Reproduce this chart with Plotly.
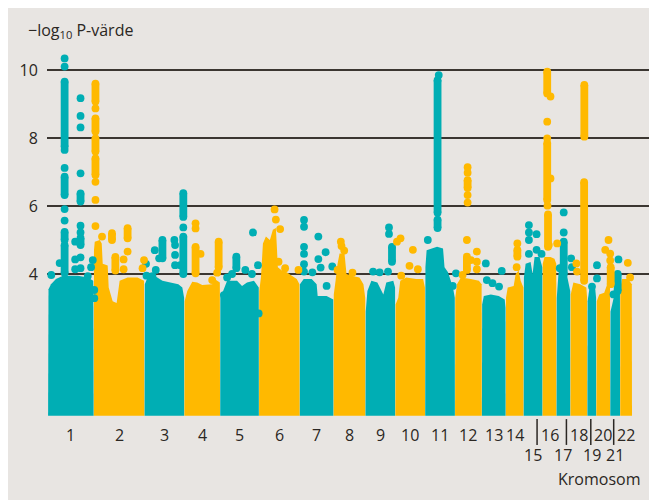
import numpy as np
import plotly.graph_objects as go

# ---------------- data ----------------
chromosomes = [str(i) for i in range(1, 23)]
chrom_length = [46, 51, 40, 36, 39, 41, 34, 32, 30, 30, 30, 27, 24, 18, 19, 14, 14, 17, 9, 14, 10, 12]
lower_row_labels = ["15", "17", "19", "21"]
separated_labels = ["16", "18", "20", "22"]
y_ticks = [4, 6, 8, 10]
cloud_floor = -0.17

# upper envelope of the dense SNP cloud, per chromosome (relative position, -log10 p)
envelope_pos = [
    [0.5, 3, 8, 15, 30, 40, 45.5],
    [0.2, 1, 6, 8, 9, 14, 15, 19, 23, 26, 34, 44, 50.5],
    [0.3, 3, 10, 18, 28, 34, 38, 39.8],
    [0.3, 3, 8, 13, 18, 28, 32, 35.7],
    [0.2, 3, 7, 17, 22, 27, 34, 38.8],
    [0.3, 2, 4, 7, 11, 14, 17, 18, 19, 23, 28, 33, 38, 40.7],
    [0.2, 4, 12, 17, 18, 27, 33.7],
    [0.2, 2, 4, 6, 11, 13, 18, 26, 30, 31.8],
    [0.3, 2, 6, 12, 18, 21, 28, 29.8],
    [0.3, 3, 5, 11, 21, 28, 29.8],
    [0.3, 1.5, 6, 12, 18, 19.5, 23, 26, 28, 29.8],
    [0.3, 2, 6, 16, 24, 26.8],
    [0.3, 2, 9, 17, 23, 23.8],
    [0.3, 2, 8, 10, 13, 15, 17.8],
    [0.3, 2, 7, 9, 11, 16, 18.8],
    [0.2, 2, 8, 12, 13.8],
    [0.3, 2, 5, 6.5, 8, 9, 11, 13.8],
    [0.3, 3, 10, 16, 16.8],
    [0.3, 2, 5, 8, 8.8],
    [0.5, 3, 8, 11, 13, 13.8],
    [0.3, 2, 5, 7, 9.5, 9.8],
    [0.2, 2, 8, 11.7],
]
envelope_val = [
    [3.55, 3.7, 3.85, 3.95, 3.95, 3.9, 3.8],
    [4.7, 4.95, 5.0, 4.9, 4.3, 4.25, 3.6, 3.2, 3.15, 3.8, 3.9, 3.9, 3.8],
    [3.7, 3.9, 3.95, 3.8, 3.75, 3.7, 3.6, 3.3],
    [3.2, 3.5, 3.77, 3.75, 3.68, 3.7, 3.82, 3.75],
    [3.3, 3.5, 3.8, 3.8, 3.65, 3.75, 3.8, 3.6],
    [3.5, 3.9, 4.9, 5.1, 5.0, 5.3, 5.35, 4.8, 4.2, 4.1, 4.05, 3.95, 3.85, 3.7],
    [3.7, 3.85, 3.85, 3.7, 3.35, 3.35, 3.25],
    [3.4, 3.8, 4.3, 4.6, 4.6, 4.0, 3.95, 3.9, 3.7, 3.3],
    [2.9, 3.5, 3.8, 3.75, 3.4, 3.75, 3.8, 3.6],
    [3.1, 3.3, 3.8, 3.9, 3.85, 3.85, 3.6],
    [4.2, 4.7, 4.75, 4.8, 4.75, 4.2, 4.05, 3.8, 3.6, 3.3],
    [3.3, 3.7, 3.9, 3.85, 3.8, 3.7],
    [3.1, 3.35, 3.4, 3.35, 3.25, 3.0],
    [3.3, 3.6, 3.65, 4.0, 4.1, 3.8, 3.6],
    [3.9, 4.3, 4.35, 4.0, 4.5, 4.5, 4.2],
    [4.3, 4.5, 4.5, 4.45, 4.3],
    [3.3, 4.0, 4.6, 4.95, 4.95, 4.6, 3.9, 3.5],
    [3.4, 3.75, 3.7, 3.6, 3.3],
    [3.2, 3.55, 3.6, 3.55, 3.3],
    [3.2, 3.4, 3.45, 3.7, 4.0, 3.8],
    [2.9, 3.1, 3.5, 3.95, 3.9, 3.5],
    [3.6, 3.85, 3.85, 3.7],
]

# runs of densely packed SNPs (chromosome, relative position, lowest, highest)
streak_chrom = [1, 1, 1, 1, 1, 1,
                2, 2, 2, 2, 2, 2, 2,
                3, 3, 3, 4, 4, 5, 9, 11, 11, 12, 12, 14,
                16, 16, 16, 17, 18, 18, 20, 21]
streak_pos = [16.7, 16.7, 16.7, 16.7, 32.7, 32.7,
              1.7, 1.7, 1.7, 1.7, 18.3, 21.7, 34,
              39, 39, 18, 11.3, 34.5, 16.3, 26.7, 12.5, 12.5, 12.7, 12, 11.7,
              4.7, 4.7, 5.5, 7.3, 14, 13.8, 14.5, 7.5]
streak_low = [7.74, 6.32, 5.0, 4.03, 6.13, 4.85,
              9.07, 8.19, 7.6, 6.91, 5.0, 4.1, 5.05,
              5.68, 4.0, 4.46, 4.02, 4.2, 4.17, 4.36, 5.8, 5.35, 6.53, 4.12, 4.51,
              9.31, 6.18, 4.8, 4.0, 8.04, 3.8, 3.7, 3.5]
streak_high = [9.66, 6.86, 5.24, 4.85, 6.37, 5.06,
               9.6, 8.58, 7.99, 7.4, 5.2, 4.5, 5.35,
               6.38, 5.1, 5.0, 4.8, 4.95, 4.51, 4.8, 9.7, 5.6, 6.76, 4.51, 4.71,
               9.95, 7.85, 5.75, 4.95, 9.56, 6.7, 4.2, 4.0]

# single SNPs standing out (chromosome, relative position, -log10 p)
dot_chrom = ([1] * 24 + [2] * 10 + [3] * 12 + [4] * 5 + [5] * 8 + [6] * 7 + [7] * 13 +
             [8] * 5 + [9] * 5 + [10] * 6 + [11] * 4 + [12] * 10 + [13] * 5 + [14] * 2 +
             [15] * 7 + [16] * 7 + [17] * 5 + [18] * 2 + [19] * 3 + [20] * 4 + [21] * 2 + [22] * 2)
dot_pos = [16.7, 16.7, 16.7, 16.7, 16.7, 16.7, 11.7, 3.3, 32.7, 32.7, 32.7, 32.7, 32.7, 32.7,
           27.3, 27.3, 32.7, 27.3, 32.7, 40, 45, 43.3, 46.5, 46.5,
           1.7, 1.7, 1.7, 1.7, 8.3, 30, 30, 34, 49, 50.5,
           39, 10.3, 14.7, 30, 30.7, 30.7, 30.7, 36, 11.3, 8, 1.5, 2,
           11.3, 11.3, 16.3, 33, 28,
           12, 25.3, 33, 32, 7, 3.7, 38, 38.7,
           15.7, 17, 21.3, 19.7, 7, 26.3, 39.7,
           4.3, 4.3, 4.3, 4.3, 4.3, 4.3, 18.7, 26, 18.7, 21, 32.7, 12.7, 27,
           7.3, 8, 10.7, 19, 4,
           23.7, 23.7, 22.7, 7.7, 14.3,
           1.7, 5.3, 17.7, 14.3, 22.7, 6,
           13.7, 2.7, 31, 27.7,
           12.7, 12.7, 12.7, 12.7, 12, 22, 22, 22, 16, 7.7,
           4, 5, 10.7, 17.3, 20,
           11.7, 11,
           5.3, 5.3, 5.3, 5.3, 13, 13, 18,
           8, 4.7, 4.7, 8, 5, 14.7, 6.3,
           7.3, 7.3, 14.7, 15.5, 3.3,
           6, 6.7,
           9.7, 9.7, 4.7,
           9, 12.3, 14, 14,
           8.3, 3.3,
           7.7, 10]
dot_val = [10.34, 10.1, 7.65, 7.12, 5.91, 5.57, 4.32, 3.97, 9.17, 8.65, 8.31, 6.96, 5.42, 5.22,
           4.95, 4.43, 4.49, 4.14, 4.17, 3.94, 4.41, 4.2, 3.53, 3.29,
           8.87, 6.71, 6.18, 5.41, 5.1, 4.43, 4.14, 4.66, 4.17, 4.41,
           5.37, 4.7, 4.46, 5.0, 4.85, 4.56, 4.26, 4.26, 4.12, 3.94, 4.3, 3.95,
           5.49, 5.34, 4.59, 4.04, 3.82,
           4.0, 4.12, 5.22, 4.0, 3.9, 3.38, 4.26, 2.84,
           5.9, 5.6, 5.32, 4.36, 4.17, 4.17, 4.12,
           5.59, 5.39, 4.8, 4.59, 4.29, 4.07, 5.1, 4.64, 4.44, 4.19, 4.22, 4.05, 3.65,
           4.95, 4.82, 4.69, 4.04, 4.12,
           5.37, 5.18, 4.07, 4.07, 4.05,
           4.95, 5.05, 4.71, 4.24, 4.14, 3.95,
           9.85, 5.0, 4.02, 3.65,
           7.14, 6.98, 6.32, 6.1, 5.0, 4.66, 4.36, 4.14, 4.41, 3.97,
           4.31, 3.82, 3.73, 3.63, 4.09,
           4.9, 4.2,
           5.44, 5.22, 5.0, 4.59, 5.17, 4.71, 4.59,
           9.22, 8.48, 7.99, 6.81, 6.01, 4.9, 4.85,
           5.81, 5.22, 4.46, 4.2, 4.17,
           4.31, 4.07,
           4.26, 3.87, 3.63,
           4.71, 5.0, 4.6, 4.4,
           4.43, 3.4,
           4.33, 3.9]

# ---------------- style ----------------
TEAL = "#00AEB4"
ORANGE = "#FFB900"
BG = "#E8E5E2"
INK = "#2B2723"
GRID = "#3B3631"
FONT = "Open Sans"
MS = 7.8

offsets = np.concatenate([[0], np.cumsum(chrom_length)[:-1]])
colors = [TEAL if i % 2 == 0 else ORANGE for i in range(len(chromosomes))]

fig = go.Figure()

# dense cloud per chromosome
for i in range(len(chromosomes)):
    start = offsets[i]
    xs = [start + p for p in envelope_pos[i]]
    x = [start + 0.1] + xs + [start + chrom_length[i] - 0.1]
    y = [cloud_floor] + envelope_val[i] + [cloud_floor]
    fig.add_trace(go.Scatter(x=x, y=y, fill="toself", fillcolor=colors[i], mode="lines",
                             line=dict(width=0, color=colors[i]), hoverinfo="skip",
                             showlegend=False))

# streaks and dots, grouped by colour
for parity, col in ((1, TEAL), (0, ORANGE)):
    sx, sy = [], []
    for c, p, lo, hi in zip(streak_chrom, streak_pos, streak_low, streak_high):
        if c % 2 == parity:
            xx = offsets[c - 1] + p
            sx += [xx, xx, None]
            sy += [lo, hi, None]
    fig.add_trace(go.Scatter(x=sx, y=sy, mode="lines+markers",
                             line=dict(width=MS, color=col),
                             marker=dict(size=MS, color=col, line=dict(width=0)),
                             hoverinfo="skip", showlegend=False, cliponaxis=False))
    dx, dy = [], []
    for c, p, v in zip(dot_chrom, dot_pos, dot_val):
        if c % 2 == parity:
            dx.append(offsets[c - 1] + p)
            dy.append(v)
    fig.add_trace(go.Scatter(x=dx, y=dy, mode="markers",
                             marker=dict(size=MS, color=col, line=dict(width=0)),
                             hoverinfo="skip", showlegend=False, cliponaxis=False))

# chromosome labels
annotations = []
shapes = []
for i, name in enumerate(chromosomes):
    mid = offsets[i] + chrom_length[i] / 2
    yrow = -0.0989 if name in lower_row_labels else -0.0455
    annotations.append(dict(x=mid, y=yrow, xref="x", yref="paper", text=name,
                            showarrow=False, xanchor="center", yanchor="middle",
                            font=dict(size=16, color=INK, family=FONT)))
    if name in separated_labels:
        shapes.append(dict(type="line", xref="x", yref="paper", x0=mid - 12.5, x1=mid - 12.5,
                           y0=-0.003, y1=-0.072, line=dict(color=INK, width=1.5)))

annotations.append(dict(x=0.985, y=-0.163, xref="paper", yref="paper", text="Kromosom",
                        showarrow=False, xanchor="right", yanchor="middle",
                        font=dict(size=16, color=INK, family=FONT)))
annotations.append(dict(x=-0.035, y=1.037, xref="paper", yref="paper",
                        text="−log<sub>10</sub> P-värde", showarrow=False,
                        xanchor="left", yanchor="middle",
                        font=dict(size=16, color=INK, family=FONT)))

fig.update_layout(
    width=657, height=500,
    margin=dict(l=36, r=14, t=36, b=90),
    paper_bgcolor=BG, plot_bgcolor=BG,
    font=dict(family=FONT, color=INK),
    showlegend=False,
    annotations=annotations,
    shapes=shapes,
    xaxis=dict(range=[-1, 606], visible=False, showgrid=False, zeroline=False),
    yaxis=dict(range=[-0.2353, 10.7647], tickvals=y_ticks, showgrid=True, gridcolor=GRID,
               gridwidth=1.5, zeroline=False, showline=False, ticks="outside", ticklen=5,
               tickcolor="rgba(0,0,0,0)", tickfont=dict(size=16, color=INK, family=FONT)),
)

fig.write_html("out.html")
